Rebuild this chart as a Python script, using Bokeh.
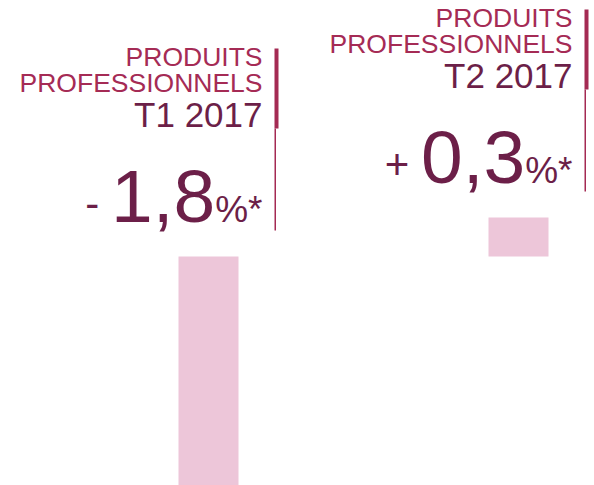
from bokeh.plotting import figure
from bokeh.models import ColumnDataSource, Range1d
from bokeh.core.properties import value
from bokeh.embed import file_html
from bokeh.resources import INLINE

# ---- data ----
categories = ["T1 2017", "T2 2017"]
title_line1 = ["PRODUITS", "PRODUITS"]
title_line2 = ["PROFESSIONNELS", "PROFESSIONNELS"]
changes = [-1.8, 0.3]   # % change

# ---- layout (pixels) ----
W, H = 594, 485
PX_X = 310.0            # px per category step
X0_PX = 208.0           # px position of first category
PX_Y = 130.0            # px per percentage point
Y0_PX = 256.0           # px from top where zero lies

x_start = -X0_PX / PX_X
x_end = (W - X0_PX) / PX_X
y_end = Y0_PX / PX_Y
y_start = -(H - Y0_PX) / PX_Y

def dx(px):
    return px / PX_X

def dy(px):
    return px / PX_Y

FONT = "Liberation Sans"
C_TITLE = "#A52B55"
C_DARK = "#6C1F48"
C_LINE = "#A42A53"
C_BAR = "#EDC6D9"

xs = list(range(len(categories)))
tops = [max(v, 0.0) for v in changes]

# Arial/Liberation advance widths (em)
ADV = {c: 0.556 for c in "0123456789"}
ADV[","] = 0.278
ADV["%"] = 0.889
ADV["*"] = 0.389

def width(s, size):
    return sum(ADV.get(c, 0.556) for c in s) * size

S_T, S_P = 26.5, 35
BIG, SMALL, SIGN = 75, 37, 42
SHIFT = 0.36            # baseline correction (em)

def base(px_above, size):
    # data y for a text baseline px_above the bar top
    return [t + dy(px_above + SHIFT * size) for t in tops]

num_txt = [f"{abs(v):.1f}".replace(".", ",") for v in changes]
sign_txt = ["- " if v < 0 else "+ " for v in changes]

R_OFF = 54.0   # right edge of annotation relative to bar centre (px)
right = [x + dx(R_OFF) for x in xs]

src = ColumnDataSource(dict(
    x=xs, v=changes, top=tops, right=right,
    t1=title_line1, t2=title_line2, per=categories,
    num=num_txt, sign=sign_txt, pct=["%*"] * len(xs),
    y_t1=base(190, S_T),
    y_t2=base(164, S_T),
    y_per=base(129, S_P),
    y_num=base(33.5, BIG),
    y_pct=base(33.5, SMALL),
    y_sign=base(38, SIGN),
    x_num=[r - dx(width("%*", SMALL)) for r in right],
    x_sign=[r - dx(width("%*", SMALL) + width(n, BIG)) for r, n in zip(right, num_txt)],
    ln_l=[r + dx(12) for r in right],
    ln_r=[r + dx(16) for r in right],
    ln_c=[r + dx(12.75) for r in right],
    thick_top=[t + dy(208) for t in tops],
    thick_bot=[t + dy(128) for t in tops],
    thin_bot=[t + dy(26) for t in tops],
))

p = figure(width=W, height=H, output_backend="svg", toolbar_location=None,
           x_range=Range1d(x_start, x_end), y_range=Range1d(y_start, y_end),
           min_border=0, outline_line_color=None)
p.axis.visible = False
p.grid.visible = False
p.background_fill_color = "white"
p.border_fill_color = "white"

# bars
p.vbar(x="x", top="v", bottom=0, width=dx(60), source=src,
       fill_color=C_BAR, line_color=None)

# vertical rules
p.segment(x0="ln_c", y0="thin_bot", x1="ln_c", y1="thick_bot", source=src,
          line_color=C_LINE, line_width=1.5)
p.quad(left="ln_l", right="ln_r", bottom="thick_bot", top="thick_top", source=src,
       fill_color=C_LINE, line_color=None)

common = dict(text_align="right", text_baseline="alphabetic",
              text_font=value(FONT), source=src)
p.text(x="right", y="y_t1", text="t1", text_font_size=f"{S_T}px",
       text_color=C_TITLE, **common)
p.text(x="right", y="y_t2", text="t2", text_font_size=f"{S_T}px",
       text_color=C_TITLE, **common)
p.text(x="right", y="y_per", text="per", text_font_size=f"{S_P}px",
       text_color=C_DARK, **common)
p.text(x="right", y="y_pct", text="pct", text_font_size=f"{SMALL}px",
       text_color=C_DARK, **common)
p.text(x="x_num", y="y_num", text="num", text_font_size=f"{BIG}px",
       text_color=C_DARK, **common)
p.text(x="x_sign", y="y_sign", text="sign", text_font_size=f"{SIGN}px",
       text_color=C_DARK, **common)

open("out.html", "w").write(file_html(p, INLINE))
